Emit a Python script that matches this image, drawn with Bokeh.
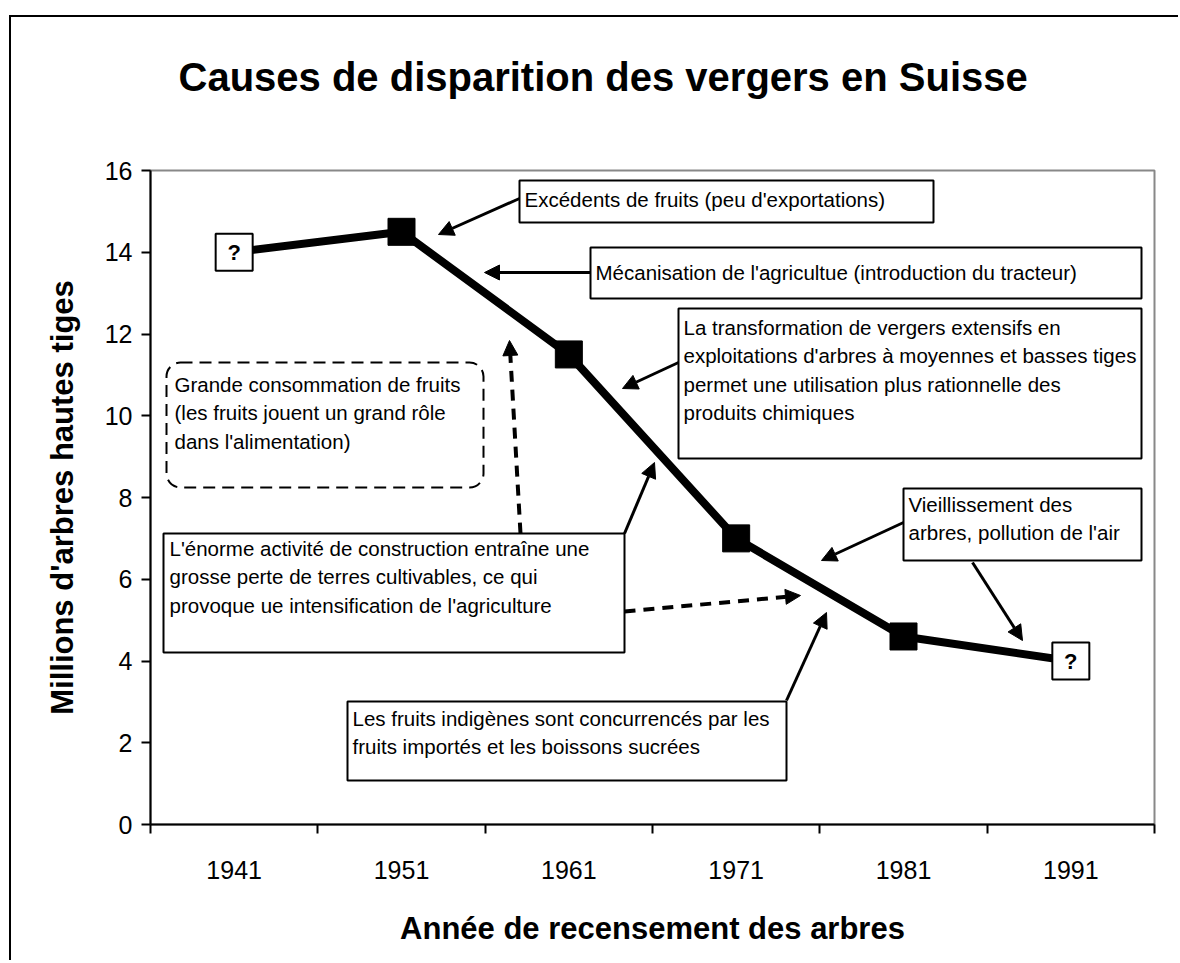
import numpy as np
from bokeh.plotting import figure
from bokeh.models import Range1d, FixedTicker, Arrow, NormalHead, BoxAnnotation, Title
from bokeh.core.properties import value
from bokeh.embed import file_html
from bokeh.resources import INLINE

# ---------------- data ----------------
years = ["1941", "1951", "1961", "1971", "1981", "1991"]
trees_millions = [14.0, 14.5, 11.5, 7.0, 4.6, 4.0]
estimated = [True, False, False, False, False, True]
y_ticks = [0, 2, 4, 6, 8, 10, 12, 14, 16]

title_text = "Causes de disparition des vergers en Suisse"
x_title = "Année de recensement des arbres"
y_title = "Millions d'arbres hautes tiges"

FONT = "Liberation Sans"
N = len(years)
YMAX = 16

# frame geometry in page pixels (used to place the free-floating callouts)
FRAME_L, FRAME_R, FRAME_T, FRAME_B = 150, 1154, 170, 824


def X(px):
    return (px - FRAME_L) / (FRAME_R - FRAME_L) * N


def Y(py):
    return (FRAME_B - py) / (FRAME_B - FRAME_T) * YMAX


p = figure(frame_width=FRAME_R - FRAME_L, frame_height=FRAME_B - FRAME_T,
           min_border_left=139, min_border_right=26, min_border_top=153, min_border_bottom=138,
           x_range=Range1d(0, N), y_range=Range1d(0, YMAX),
           output_backend="svg", toolbar_location=None, tools="")
# outer chart frame: only its top and left edges are inside the picture
p.styles = {"box-shadow": "-2px -2px 0px 0px black", "transform": "translate(11px, 17px)"}
p.background_fill_color = "white"
p.border_fill_color = "white"
p.outline_line_color = "#888888"
p.outline_line_width = 2
p.xgrid.visible = False
p.ygrid.visible = False

# title: an empty spacer next to the frame, then the real title above it
p.title.text = ""
p.add_layout(Title(text=" ", text_font_size="10px", standoff=54), "above")
p.add_layout(Title(text=title_text, align="left", offset=28, standoff=10, text_font=FONT,
                   text_font_size="40px", text_font_style="bold", text_color="black"), "above")

# x axis: labels at category centres, ticks between categories
xc = np.arange(N) + 0.5
xa = p.xaxis[0]
xa.ticker = FixedTicker(ticks=[float(v) for v in xc], minor_ticks=list(range(N + 1)))
xa.major_label_overrides = {float(v): yr for v, yr in zip(xc, years)}
xa.major_tick_line_color = None
xa.major_tick_out = 0
xa.major_tick_in = 0
xa.minor_tick_out = 9
xa.minor_tick_in = 0
xa.minor_tick_line_color = "black"
xa.minor_tick_line_width = 2
xa.axis_line_color = "black"
xa.axis_line_width = 2
xa.major_label_standoff = 27
xa.major_label_text_font = FONT
xa.major_label_text_font_size = "25px"
xa.major_label_text_color = "black"
xa.axis_label = x_title
xa.axis_label_standoff = 29
xa.axis_label_text_font = FONT
xa.axis_label_text_font_size = "31px"
xa.axis_label_text_font_style = "bold"
xa.axis_label_text_color = "black"

ya = p.yaxis[0]
ya.ticker = FixedTicker(ticks=y_ticks, minor_ticks=[])
ya.major_tick_out = 9
ya.major_tick_in = 0
ya.major_tick_line_color = "black"
ya.major_tick_line_width = 2
ya.axis_line_color = "black"
ya.axis_line_width = 2
ya.major_label_standoff = 9
ya.major_label_text_font = FONT
ya.major_label_text_font_size = "25px"
ya.major_label_text_color = "black"
ya.axis_label = y_title
ya.axis_label_standoff = 22
ya.axis_label_text_font = FONT
ya.axis_label_text_font_size = "31px"
ya.axis_label_text_font_style = "bold"
ya.axis_label_text_color = "black"

# ---------------- series ----------------
vals = np.array(trees_millions)
est = np.array(estimated)
p.line(xc, vals, line_width=8, line_color="black")
p.scatter(xc[~est], vals[~est], marker="square", size=27, fill_color="black", line_color="black")
p.scatter(xc[est], vals[est], marker="square", size=37, fill_color="white",
          line_color="black", line_width=2)
p.text(xc[est], vals[est], text=["?"] * int(est.sum()), text_align="center", text_baseline="middle",
       text_font=value(FONT), text_font_size=value("22px"), text_font_style="bold", text_color="black")

# ---------------- callouts ----------------
LS = 28.3
TXT = dict(text_align="left", text_baseline="middle", text_font=value(FONT),
           text_font_size=value("20.5px"), text_color="black")


def callout(l, t, r, b, lines, tx, ty, framed=True):
    if framed:
        p.quad(left=[X(l)], right=[X(r)], top=[Y(t)], bottom=[Y(b)], fill_color="white",
               line_color="black", line_width=2)
    p.text(x=[X(tx)] * len(lines), y=[Y(ty + i * LS) for i in range(len(lines))], text=lines, **TXT)


def arrow(x0, y0, x1, y1, dashed=False):
    head = NormalHead(size=15, fill_color="black", line_color="black", line_width=1)
    kw = dict(line_width=4, line_dash="11 8") if dashed else dict(line_width=3)
    p.add_layout(Arrow(end=head, x_start=X(x0), y_start=Y(y0), x_end=X(x1), y_end=Y(y1),
                       line_color="black", **kw))


callout(519, 180, 933, 222, ["Excédents de fruits (peu d'exportations)"], 524, 199)
arrow(519, 198, 438, 234)

callout(590, 247, 1141, 298, ["Mécanisation de  l'agricultue (introduction du tracteur)"], 595, 272)
arrow(590, 272, 484, 272)

callout(678, 308, 1141, 458,
        ["La transformation de vergers extensifs en",
         "exploitations d'arbres à moyennes et basses tiges",
         "permet une utilisation plus rationnelle des",
         "produits chimiques"], 683, 327)
arrow(678, 362, 622, 388)

p.add_layout(BoxAnnotation(left=X(166), right=X(483), top=Y(362), bottom=Y(487),
                           fill_alpha=0, line_color="black", line_alpha=1, line_width=2,
                           line_dash="12 7", border_radius=14))
callout(0, 0, 0, 0, ["Grande consommation de fruits",
                     "(les fruits jouent un grand rôle",
                     "dans l'alimentation)"], 174, 384, framed=False)

arrow(520, 533, 509, 340, dashed=True)

callout(163, 533, 624, 652,
        ["L'énorme activité de construction entraîne une",
         "grosse perte de terres cultivables, ce qui",
         "provoque ue intensification de l'agriculture"], 169, 548)
arrow(624, 533, 654, 462)
arrow(624, 611, 800, 595, dashed=True)

callout(903, 488, 1141, 560, ["Vieillissement des", "arbres, pollution de l'air"], 908, 504)
arrow(903, 522, 821, 560)
arrow(972, 562, 1022, 640)

callout(347, 701, 786, 780,
        ["Les fruits indigènes sont concurrencés par les",
         "fruits importés et les boissons sucrées"], 352, 718)
arrow(786, 700, 826, 612)

open("out.html", "w").write(file_html(p, INLINE))
